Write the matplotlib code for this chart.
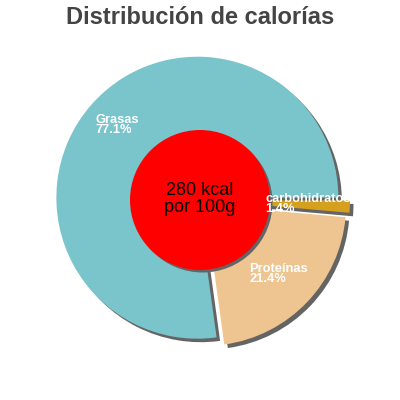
import matplotlib
matplotlib.use("Agg")
import matplotlib.pyplot as plt
from matplotlib.patches import Circle, Rectangle

plt.rcParams["font.family"] = ["Liberation Sans", "DejaVu Sans"]

# data
labels = ["Grasas", "Proteínas", "carbohidratos"]
percents = [77.1, 21.4, 1.4]
colors = ["#7ac4cc", "#eec591", "#d4a01e"]
explode = [3.5, 7, 9]          # px offsets
kcal = 280

CX, CY, R = 200, 200, 141
SHADOW = "#646464"
SH_DX, SH_DY = 3.5, -3.5

fig = plt.figure(figsize=(4, 4), dpi=100)
ax = fig.add_axes([0, 0, 1, 1])

# shadows first, then the slices
ax.pie(percents, explode=explode, radius=R, center=(CX + SH_DX, CY + SH_DY),
       startangle=0, colors=[SHADOW] * 3, wedgeprops=dict(linewidth=0))
ax.pie(percents, explode=explode, radius=R, center=(CX, CY),
       startangle=0, colors=colors, wedgeprops=dict(linewidth=0))

# centre disc
ax.add_patch(Circle((CX + 2.5, CY - 2.5), 70, color=SHADOW, lw=0))
ax.add_patch(Circle((CX, CY), 70, color="#ff0000", lw=0))
ax.text(CX, CY + 1, f"{kcal} kcal\npor 100g", ha="center", va="center",
        fontsize=13, color="black", linespacing=1.0)

# slice labels (pixel positions, y measured from top)
lab_pos = [(95, 125), (249, 274), (265, 204)]
clip = Rectangle((0, 0), 346, 400, transform=ax.transData, visible=False)
ax.add_patch(clip)
for name, pct, (lx, ly) in zip(labels, percents, lab_pos):
    t = ax.text(lx, 400 - ly, f"{name}\n{pct}%", ha="left", va="center",
                fontsize=9.3, fontweight="bold", color="white", linespacing=0.8)
    t.set_clip_path(clip)

ax.set_xlim(0, 400)
ax.set_ylim(0, 400)
ax.set_aspect("equal")
ax.axis("off")

fig.text(0.5, 1 - 17 / 400, "Distribución de calorías", ha="center", va="center",
         fontsize=17, fontweight="bold", color="#444444")

fig.savefig("out.png", dpi=100)
